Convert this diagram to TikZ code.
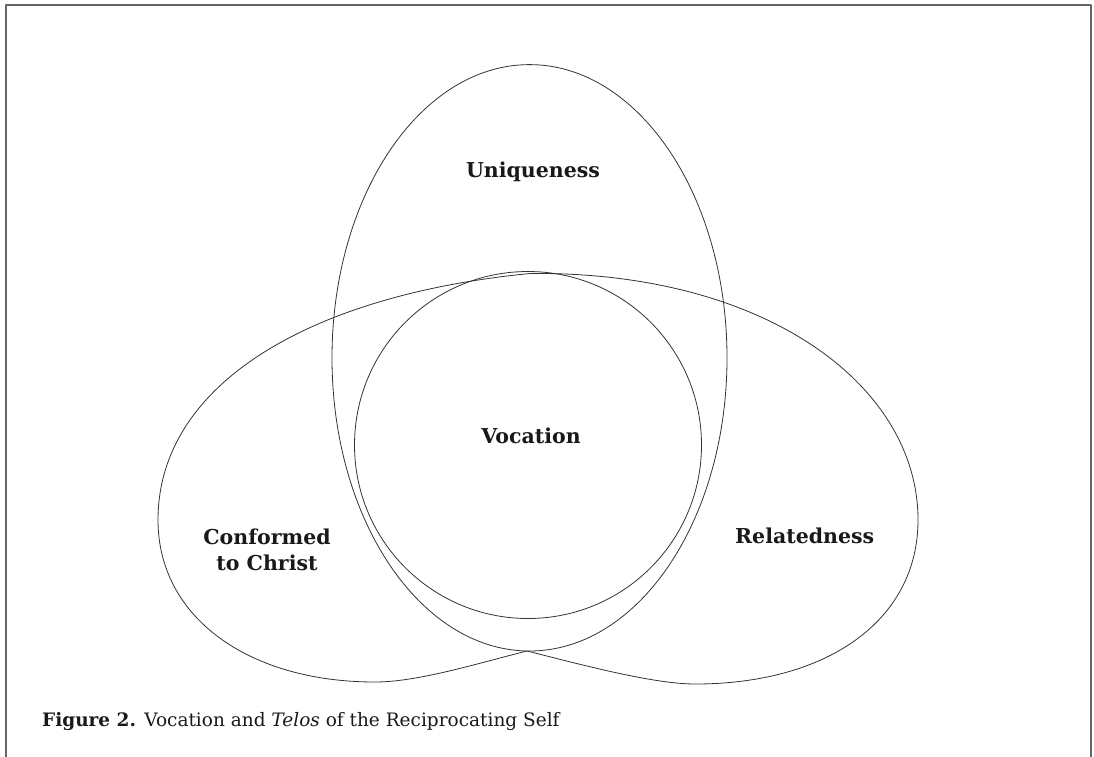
\documentclass[tikz,border=0pt]{standalone}
\usepackage{fontspec}
\setmainfont{DejaVu Serif}
\begin{document}
\begin{tikzpicture}[x=1pt,y=-1pt,line join=round]
\useasboundingbox (0,0) rectangle (1094,756);
\tikzset{
  shapeline/.style={draw=black!80,line width=0.8pt},
  lbl/.style={font=\fontsize{20.5}{26}\selectfont\bfseries,inner sep=0pt,text=black!90},
  captiontext/.style={font=\fontsize{18.5}{22}\selectfont,inner sep=0pt,text=black!90}
}
% frame
\draw[black!60,line width=2pt] (5.5,760) -- (5.5,4.5) -- (1091,4.5) -- (1091,760);
% vertical ellipse
\draw[shapeline] (529.5,357.8) ellipse [x radius=197.5,y radius=293.2];
% circle
\draw[shapeline] (528,445) circle [radius=173.5];
% junction points
\coordinate (top) at (530,273.5);
\coordinate (bottom) at (527,651);
\coordinate (lleft) at (158,520);
\coordinate (lbot) at (375,682);
\coordinate (rright) at (918,520);
\coordinate (rbot) at (695,684);
% left ellipse (visible part)
\draw[shapeline] (top) .. controls (310,295) and (158,384) .. (lleft)
  .. controls (158,617) and (248,682) .. (lbot)
  .. controls (418,682) and (477,663.5) .. (bottom);
% right ellipse (visible part)
\draw[shapeline] (top) .. controls (765,271) and (918,385) .. (rright)
  .. controls (918,620) and (828,684) .. (rbot)
  .. controls (652,684) and (577,663.5) .. (bottom);
% labels
\node[lbl] (uniq) at (533,172) {Uniqueness};
\node[lbl,anchor=base] (voc) at (531,443) {Vocation};
\node[lbl,anchor=base] (conf) at (267,544) {Conformed};
\node[lbl,anchor=base] (conf2) at (267,570) {to Christ};
\node[lbl,anchor=base west] (rel) at (735,543) {Relatedness};
\node[captiontext,anchor=base west] (caption) at (42,726) {\textbf{Figure 2.}\hspace{0.45em}Vocation and \textit{Telos} of the Reciprocating Self};
\end{tikzpicture}
\end{document}
